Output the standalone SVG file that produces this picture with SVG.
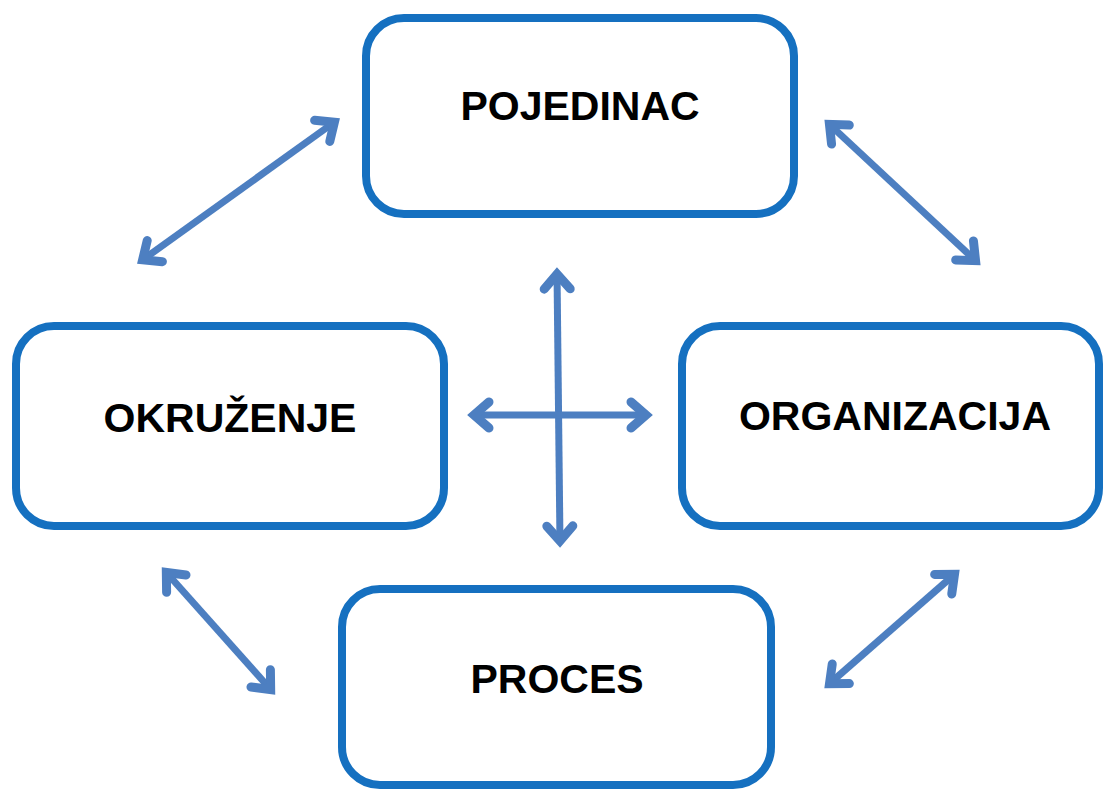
<svg xmlns="http://www.w3.org/2000/svg" width="1105" height="789" viewBox="0 0 1105 789">
<style>
.box{fill:#fff;stroke:#1570c0;stroke-width:8}
.lbl{font-family:"Liberation Sans",Arial,sans-serif;font-weight:bold;font-size:41px;fill:#000;text-anchor:middle}
.con{stroke:#4d7fc1;stroke-width:7;fill:none;marker-start:url(#ah);marker-end:url(#ah)}
</style>
<defs>
<marker id="ah" markerUnits="userSpaceOnUse" viewBox="-30 -20 40 40" refX="0" refY="0" markerWidth="40" markerHeight="40" orient="auto-start-reverse">
<path d="M-17,-13 L-2,0 L-17,13" fill="none" stroke="#4d7fc1" stroke-width="9" stroke-linejoin="miter" stroke-linecap="round"/>
</marker>
</defs>
<rect width="1105" height="789" fill="#fff"/>
<g id="connectors">
<line class="con" x1="141" y1="261" x2="336" y2="121"/>
<line class="con" x1="828" y1="123" x2="977" y2="262"/>
<line class="con" x1="557" y1="272" x2="560" y2="543"/>
<line class="con" x1="472" y1="415" x2="648" y2="415"/>
<line class="con" x1="165" y1="571" x2="272" y2="691"/>
<line class="con" x1="828" y1="685" x2="956" y2="573"/>
</g>
<g id="pojedinac">
<rect class="box" x="366" y="18" width="428" height="196" rx="38"/>
<text class="lbl" x="580" y="120">POJEDINAC</text>
</g>
<g id="okruzenje">
<rect class="box" x="16" y="326" width="428" height="200" rx="38"/>
<text class="lbl" x="230" y="432">OKRUŽENJE</text>
</g>
<g id="organizacija">
<rect class="box" x="682" y="326" width="417" height="200" rx="38"/>
<text class="lbl" x="895" y="430">ORGANIZACIJA</text>
</g>
<g id="proces">
<rect class="box" x="342" y="589" width="429" height="196" rx="38"/>
<text class="lbl" x="557" y="693">PROCES</text>
</g>
</svg>
